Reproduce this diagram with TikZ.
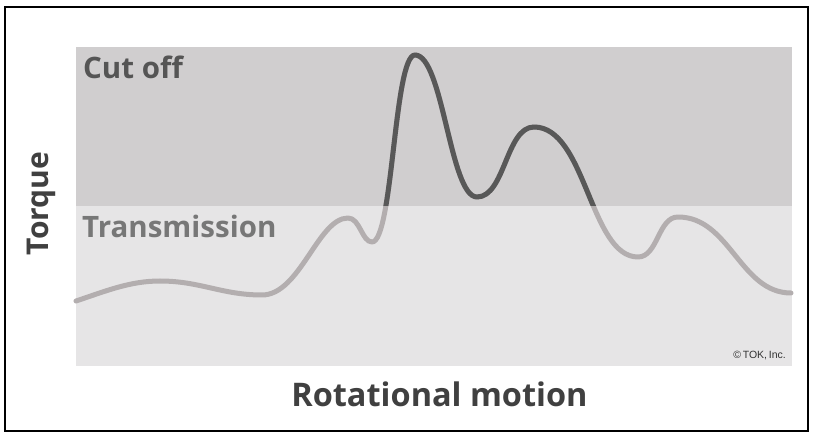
\documentclass[tikz,border=0pt]{standalone}
\usepackage{fontspec}
\setmainfont{Open Sans}
\newfontfamily\smallfont{Liberation Sans}
\definecolor{cutbg}{HTML}{D0CECF}
\definecolor{transbg}{HTML}{E6E5E6}
\definecolor{darkcurve}{HTML}{585858}
\definecolor{lightcurve}{HTML}{B3AEAF}
\definecolor{cuttext}{HTML}{555555}
\definecolor{transtext}{HTML}{777777}
\definecolor{axistext}{HTML}{404040}
\tikzset{
  zonelabel/.style={inner sep=0pt, anchor=base west, font=\bfseries\fontsize{29.5}{31}\selectfont},
  axislabel/.style={inner sep=0pt, anchor=base, text=axistext},
  curvestyle/.style={line width=5pt, line cap=round, line join=round},
}
\newcommand{\torquecurve}{(76,301)
 .. controls (106,291) and (130,281) .. (160,281)
 .. controls (200,281) and (222,295) .. (262,295)
 .. controls (300,295) and (318,218) .. (348,218)
 .. controls (360,218) and (362,242) .. (372,242)
 .. controls (393,242) and (394,55) .. (415,55)
 .. controls (443,55) and (450,197) .. (477,197)
 .. controls (505,197) and (506,127) .. (534,127)
 .. controls (586,127) and (590,257) .. (638,257)
 .. controls (658,257) and (658,217) .. (678,217)
 .. controls (730,217) and (740,293) .. (791,293)}
\begin{document}
\begin{tikzpicture}[x=1pt, y=-1pt]
  \useasboundingbox (0,0) rectangle (815,438);
  \fill[white] (0,0) rectangle (815,438);
  % zones
  \fill[cutbg] (76,47) rectangle (792,206);
  \fill[transbg] (76,206) rectangle (792,366);
  % curve: light everywhere, dark in the cut-off zone
  \draw[curvestyle, lightcurve] \torquecurve;
  \begin{scope}
    \clip (60,20) rectangle (800,206);
    \draw[curvestyle, darkcurve] \torquecurve;
  \end{scope}
  % labels
  \node[zonelabel, text=cuttext] (cut) at (83,79) {Cut off};
  \node[zonelabel, text=transtext] (trans) at (82,238) {Transmission};
  \node[axislabel, font=\bfseries\fontsize{32.5}{34}\selectfont] (xlab) at (439.5,407) {Rotational motion};
  \node[axislabel, rotate=90, font=\bfseries\fontsize{30}{32}\selectfont] (ylab) at (48,203.5) {Torque};
  \node[inner sep=0pt, anchor=base east, text=black!80, font=\smallfont\fontsize{10.5}{12}\selectfont] (copy) at (786,359) {©\,TOK,\,Inc.};
  % frame
  \draw[line width=2pt, black] (5,7) rectangle (808,431);
\end{tikzpicture}
\end{document}
